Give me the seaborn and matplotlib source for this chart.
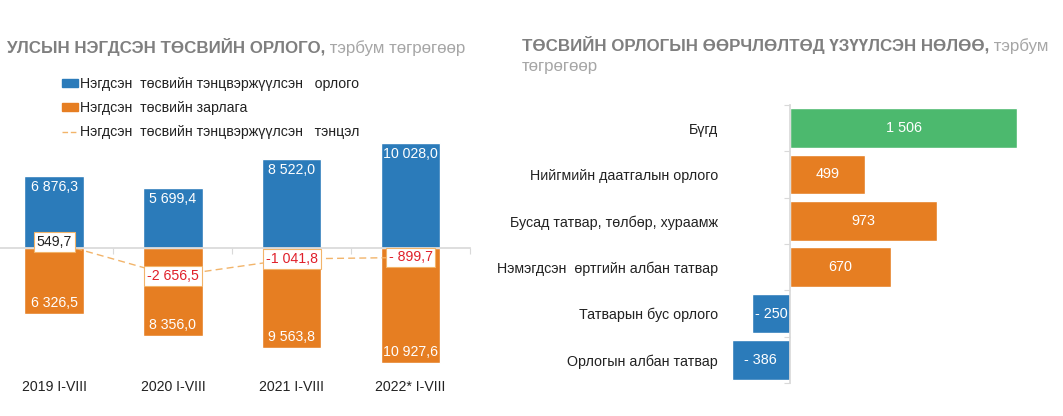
import numpy as np
import pandas as pd
import seaborn as sns
import matplotlib.pyplot as plt
from matplotlib.patches import Patch
from matplotlib.lines import Line2D
from matplotlib.ticker import FixedLocator

# Зүүн график: улсын нэгдсэн төсөв
periods = ["2019 I-VIII", "2020 I-VIII", "2021 I-VIII", "2022* I-VIII"]
revenue = [6876.3, 5699.4, 8522.0, 10028.0]
expense = [6326.5, 8356.0, 9563.8, 10927.6]
balance = [549.7, -2656.5, -1041.8, -899.7]

# Баруун график: өөрчлөлтөд үзүүлсэн нөлөө
items = ["Бүгд", "Нийгмийн даатгалын орлого", "Бусад татвар, төлбөр, хураамж",
         "Нэмэгдсэн  өртгийн албан татвар", "Татварын бус орлого", "Орлогын албан татвар"]
impact = [1506, 499, 973, 670, -250, -386]

BLUE = "#2B7BBA"
ORANGE = "#E67E22"
GREEN = "#4CB96E"
LINE_C = "#F2B46A"
RED = "#E0202A"
TXT = "#222222"

legend_labels = ["Нэгдсэн  төсвийн тэнцвэржүүлсэн   орлого",
                 "Нэгдсэн  төсвийн зарлага",
                 "Нэгдсэн  төсвийн тэнцвэржүүлсэн   тэнцэл"]


def fmt(v, dec=1):
    s = f"{abs(v):,.{dec}f}".replace(",", " ").replace(".", ",")
    if v < 0:
        return ("- " if abs(v) < 1000 else "-") + s
    return s


sns.set_theme(style="white")
plt.rcParams["font.family"] = ["Liberation Sans", "DejaVu Sans"]
plt.rcParams["font.size"] = 10

W, H = 1063, 416
fig = plt.figure(figsize=(W / 100, H / 100), dpi=100)


def px_axes(l, t, r, b):
    return fig.add_axes([l / W, 1 - b / H, (r - l) / W, (b - t) / H])


#region left chart
ax = px_axes(0, 135, 470, 372)
sns.barplot(x=periods, y=revenue, color=BLUE, width=0.5, saturation=1, ax=ax)
sns.barplot(x=periods, y=[-v for v in expense], color=ORANGE, width=0.5, saturation=1, ax=ax)
sns.lineplot(x=periods, y=balance, color=LINE_C, lw=1, dashes=(5, 3), sort=False, ax=ax)
ax.set_xlim(-0.455, 3.5)
ax.set_ylim(-11810, 10760)

for i, p in enumerate(periods):
    ax.annotate(fmt(revenue[i]), (p, revenue[i]), xytext=(0, -11), textcoords="offset pixels",
                ha="center", va="center", color="white", fontsize=10.2)
    ax.annotate(fmt(expense[i]), (p, -expense[i]), xytext=(0, 11), textcoords="offset pixels",
                ha="center", va="center", color="white", fontsize=10.2)
    ax.text(p, balance[i], fmt(balance[i]), ha="center", va="center", fontsize=10.2,
            color=TXT if balance[i] > 0 else RED,
            bbox=dict(boxstyle="square,pad=0.2", fc="white", ec=LINE_C, lw=0.8))

for s in ["top", "right", "left"]:
    ax.spines[s].set_visible(False)
ax.spines["bottom"].set_position(("data", 0))
ax.spines["bottom"].set_color("#D9D9D9")
ax.set_yticks([])
ax.set_xlabel("")
ax.set_ylabel("")
ax.xaxis.set_minor_locator(FixedLocator([-0.5, 0.5, 1.5, 2.5, 3.5]))
ax.tick_params(axis="x", which="major", length=0, pad=95, labelsize=10.2, colors=TXT)
ax.tick_params(axis="x", which="minor", bottom=True, length=4, color="#D9D9D9", width=0.8)

handles = [Patch(color=BLUE), Patch(color=ORANGE), Line2D([], [], color=LINE_C, lw=1, dashes=(4, 2))]
fig.legend(handles, legend_labels, loc="upper left", bbox_to_anchor=(62 / W, 1 - 77 / H),
           frameon=False, fontsize=10.2, handlelength=1.15, handleheight=0.45,
           handletextpad=0.15, labelspacing=0.72, borderpad=0, borderaxespad=0,
           labelcolor=TXT)

t1 = fig.text(7 / W, 1 - 47 / H, "УЛСЫН НЭГДСЭН ТӨСВИЙН ОРЛОГО,", fontsize=12.2,
              fontweight="bold", color="#7F7F7F", va="center")
ax.annotate(" тэрбум төгрөгөөр", xy=(1, 0), xycoords=t1, va="bottom", ha="left",
            fontsize=12.2, color="#A6A6A6", annotation_clip=False)
#endregion

#region right chart
ax2 = px_axes(722, 105, 1050, 383)
sns.barplot(x=impact, y=items, hue=items, palette=[GREEN, ORANGE, ORANGE, ORANGE, BLUE, BLUE],
            legend=False, width=0.86, saturation=1, orient="h", ax=ax2)
ax2.set_xlim(-(790 - 722) / 0.151, (1050 - 790) / 0.151)
ax2.set_ylim(5.5, -0.5)
for i, it in enumerate(items):
    ax2.text(impact[i] / 2, it, fmt(impact[i], 0), ha="center", va="center",
             color="white", fontsize=10.4)

for s in ["top", "right", "bottom"]:
    ax2.spines[s].set_visible(False)
ax2.spines["left"].set_position(("data", 0))
ax2.spines["left"].set_color("#D9D9D9")
ax2.set_xticks([])
ax2.set_xlabel("")
ax2.set_ylabel("")
ax2.yaxis.set_minor_locator(FixedLocator(np.arange(-0.5, 6, 1)))
ax2.tick_params(axis="y", which="major", length=0, pad=52, labelsize=10.3, colors=TXT)
ax2.tick_params(axis="y", which="minor", left=True, length=4, color="#D9D9D9", width=0.8)

t2 = fig.text(522 / W, 1 - 45 / H, "ТӨСВИЙН ОРЛОГЫН ӨӨРЧЛӨЛТӨД ҮЗҮҮЛСЭН НӨЛӨӨ,", fontsize=12.2,
              fontweight="bold", color="#7F7F7F", va="center")
ax2.annotate(" тэрбум", xy=(1, 0), xycoords=t2, va="bottom", ha="left",
             fontsize=12.2, color="#A6A6A6", annotation_clip=False)
fig.text(522 / W, 1 - 66 / H, "төгрөгөөр", fontsize=12.2, color="#A6A6A6", va="center")
#endregion

fig.savefig("out.png", dpi=100)
